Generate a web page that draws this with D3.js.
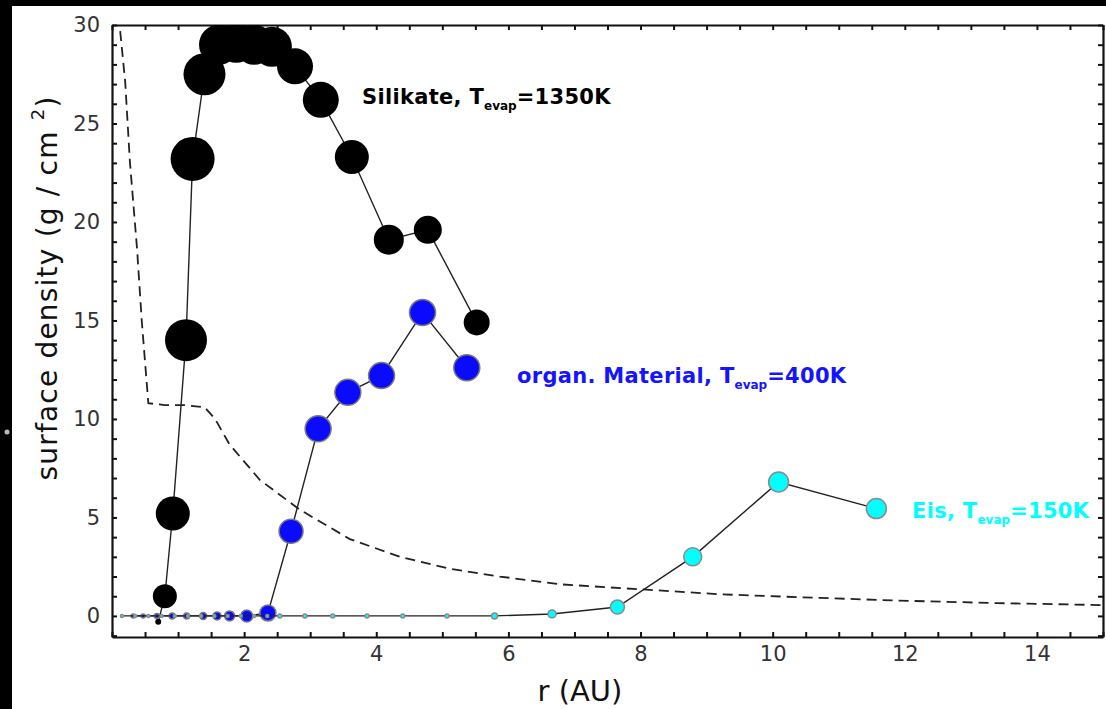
<!DOCTYPE html>
<html>
<head>
<meta charset="utf-8">
<script src="https://cdn.jsdelivr.net/npm/d3@7"></script>
<style>
  body { margin:0; background:#000; }
  svg { display:block; }
</style>
</head>
<body>
<div id="chart"></div>
<script>
// Silikat (black)
var silR = [0.70, 0.80, 0.92, 1.12, 1.22, 1.40, 1.62, 1.88, 2.15, 2.42, 2.77, 3.16, 3.63, 4.19, 4.78, 5.52];
var silV = [-0.3, 1.0, 5.2, 14.0, 23.2, 27.5, 29.0, 29.1, 29.0, 28.9, 27.9, 26.2, 23.3, 19.1, 19.6, 14.9];
var silS = [3, 12, 17, 21, 22, 21, 20, 20, 20, 20, 18, 18, 17, 15, 14, 13];

// organisches Material (blue)
var orgR = [0.32, 0.47, 0.68, 0.91, 1.13, 1.38, 1.59, 1.78, 2.04, 2.36, 2.71, 3.12, 3.57, 4.08, 4.70, 5.37];
var orgV = [0, 0, 0, 0, 0, 0, 0, 0, 0, 0.15, 4.3, 9.5, 11.35, 12.2, 15.4, 12.6];
var orgS = [2, 2, 2.5, 3, 3, 3.5, 4, 5, 6, 8, 12, 13, 13, 13, 13, 13];

// Eis (cyan)
var eisR = [0.15, 0.35, 0.55, 0.75, 0.95, 1.15, 1.35, 1.55, 1.75, 1.95, 2.15, 2.35, 2.54, 2.92, 3.34, 3.86, 4.40, 5.07, 5.79, 6.66, 7.65, 8.79, 10.09, 11.57];
var eisV = [0, 0, 0, 0, 0, 0, 0, 0, 0, 0, 0, 0, 0, 0, 0, 0, 0, 0, 0, 0.1, 0.45, 3.0, 6.8, 5.45];
var eisS = [1.5, 1.5, 1.5, 1.5, 1.5, 1.5, 1.5, 1.5, 1.5, 1.5, 1.5, 1.5, 2, 2, 2, 2, 2, 2, 3, 4, 7, 9, 10, 10];

// dashed curve
var dustR = [0.10, 0.20, 0.27, 0.38, 0.45, 0.55, 0.80, 1.10, 1.40, 1.56, 1.78, 2.24, 2.84, 3.60, 4.36, 5.10, 5.87, 6.80, 8.00, 9.20, 10.40, 11.90, 13.40, 15.00];
var dustV = [30.5, 27.1, 23.1, 18.6, 15.0, 10.8, 10.7, 10.7, 10.6, 10.0, 8.7, 6.9, 5.4, 3.9, 3.0, 2.4, 2.0, 1.6, 1.35, 1.1, 0.95, 0.78, 0.65, 0.55];

var xTicks = d3.range(0, 15.01, 0.5);
var yTicks = d3.range(-1, 30.01, 1);
var xLabels = [2, 4, 6, 8, 10, 12, 14];
var yLabels = [0, 5, 10, 15, 20, 25, 30];

var fullWidth = 1106, fullHeight = 709;
var plotL = 112, plotR = 1103, plotT = 25, plotB = 637;

var svg = d3.select("#chart")
			.append("svg")
			.attr("width", fullWidth)
			.attr("height", fullHeight);

svg.append("rect")
	.attr("x", 12).attr("y", 6)
	.attr("width", fullWidth - 12).attr("height", fullHeight - 6)
	.attr("fill", "#fff");

var xScale = d3.scaleLinear().domain([0, 15]).range([plotL, plotR]);
var yScale = d3.scaleLinear().domain([-1.07, 30]).range([plotB, plotT]);

svg.append("clipPath").attr("id", "plot")
	.append("rect")
	.attr("x", plotL).attr("y", plotT)
	.attr("width", plotR - plotL).attr("height", plotB - plotT);

var tickFont = "'DejaVu Sans', sans-serif";

function styleAxis(g) {
	g.select(".domain").attr("stroke", "#111").attr("stroke-width", 2.2);
	g.selectAll(".tick line").attr("stroke", "#111").attr("stroke-width", 2);
	g.selectAll(".tick text").attr("fill", "#333").style("font-family", tickFont).style("font-size", "21px");
}

var xAxis = d3.axisBottom(xScale).tickValues(xTicks).tickSizeInner(-5).tickSizeOuter(0).tickPadding(9)
	.tickFormat(function(d) { return xLabels.indexOf(d) >= 0 ? d : ""; });
var xAxisTop = d3.axisTop(xScale).tickValues(xTicks).tickSizeInner(-5).tickSizeOuter(0).tickFormat("");
var yAxis = d3.axisLeft(yScale).tickValues(yTicks).tickSizeInner(-5).tickSizeOuter(0).tickPadding(12)
	.tickFormat(function(d) { return yLabels.indexOf(d) >= 0 ? d : ""; });
var yAxisRight = d3.axisRight(yScale).tickValues(yTicks).tickSizeInner(-5).tickSizeOuter(0).tickFormat("");

svg.append("g").attr("transform", "translate(0," + plotB + ")").call(xAxis).call(styleAxis);
svg.append("g").attr("transform", "translate(0," + plotT + ")").call(xAxisTop).call(styleAxis);
svg.append("g").attr("transform", "translate(" + plotL + ",0)").call(yAxis).call(styleAxis);
svg.append("g").attr("transform", "translate(" + plotR + ",0)").call(yAxisRight).call(styleAxis);

var plot = svg.append("g").attr("clip-path", "url(#plot)");

var line = d3.line()
	.x(function(d) { return xScale(d[0]); })
	.y(function(d) { return yScale(d[1]); });

plot.append("path")
	.datum(d3.zip(dustR, dustV))
	.attr("d", line)
	.attr("fill", "none")
	.attr("stroke", "#222")
	.attr("stroke-width", 1.8)
	.attr("stroke-dasharray", "10,6");

function series(rs, vs, ss, fill, outline) {
	var pts = d3.zip(rs, vs, ss);
	plot.append("path")
		.datum(pts)
		.attr("d", line)
		.attr("fill", "none")
		.attr("stroke", "#222")
		.attr("stroke-width", 1.4);
	plot.selectAll(null)
		.data(pts)
		.enter()
		.append("circle")
		.attr("cx", function(d) { return xScale(d[0]); })
		.attr("cy", function(d) { return yScale(d[1]); })
		.attr("r", function(d) { return d[2]; })
		.attr("fill", fill)
		.attr("stroke", outline)
		.attr("stroke-width", outline == "none" ? 0 : 1.5);
}

series(silR, silV, silS, "#000", "none");
series(orgR, orgV, orgS, "#0a0aff", "#7a7a7a");
series(eisR, eisV, eisS, "#00ffff", "#8a8a8a");

// labels
function label(x, y, name, temp, color) {
	var t = svg.append("text")
		.attr("x", x).attr("y", y)
		.attr("fill", color)
		.style("font-family", "'DejaVu Sans', sans-serif")
		.style("font-weight", "bold")
		.style("font-size", "21px")
		.style("letter-spacing", "0.3px");
	t.append("tspan").text(name + ", T");
	t.append("tspan").attr("dy", 6).style("font-size", "12px").style("letter-spacing", "0px").text("evap");
	t.append("tspan").attr("dy", -6).text("=" + temp);
}
label(362, 104, "Silikate", "1350K", "#000");
label(517, 383, "organ. Material", "400K", "#1414ff");
label(912, 518, "Eis", "150K", "#00ffff");

// axis titles
svg.append("text")
	.attr("x", 580).attr("y", 701)
	.attr("text-anchor", "middle")
	.style("font-family", "'DejaVu Sans', sans-serif")
	.style("font-size", "29px")
	.attr("fill", "#111")
	.text("r (AU)");

var yt = svg.append("text")
	.attr("transform", "translate(57,288) rotate(-90)")
	.attr("text-anchor", "middle")
	.style("font-family", "'DejaVu Sans', sans-serif")
	.style("font-size", "28px")
	.style("letter-spacing", "1.2px")
	.attr("fill", "#111");
yt.append("tspan").text("surface density (g / cm ");
yt.append("tspan").attr("dy", -13).style("font-size", "18px").text("2");
yt.append("tspan").attr("dy", 13).text(")");

// small light spot on the left border
svg.append("circle").attr("cx", 7).attr("cy", 432).attr("r", 2.5).attr("fill", "#bbb");
</script>
</body>
</html>
